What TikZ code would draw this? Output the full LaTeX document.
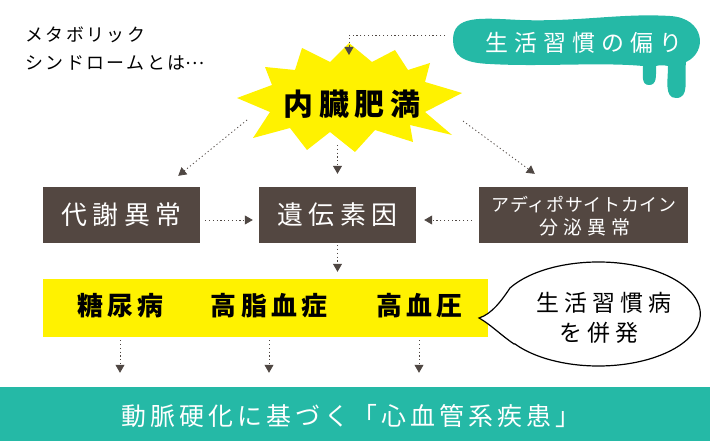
\documentclass[tikz,border=0pt]{standalone}
\usepackage{fontspec}
\setmainfont{Noto Sans CJK JP}
\usetikzlibrary{arrows.meta}
\definecolor{barkbrown}{HTML}{534741}
\definecolor{tealgreen}{HTML}{25B9A6}
\definecolor{arrowgray}{HTML}{4F4743}
\newcommand{\jpfont}[2]{\fontsize{#1}{#1}\selectfont\addfontfeatures{LetterSpace=#2}}

\tikzset{
  dotarrow/.style={draw=arrowgray, line width=0.8bp, dash pattern=on 1.2bp off 2.6bp,
    -{Triangle[width=9bp,length=8bp]}},
  brownbox/.style={fill=barkbrown, text=white, minimum height=56bp, inner sep=0pt},
  plaintext/.style={inner sep=0pt},
}

\begin{document}
\begin{tikzpicture}[x=1bp, y=-1bp]
		%%%%% START %%%%%
		\useasboundingbox (0,0) rectangle (710,441);
		
		% title
		\node[plaintext, anchor=base west, font=\jpfont{18}{14}] (title1) at (25,42) {メタボリック};
		\node[plaintext, anchor=base west, font=\jpfont{18}{14}] (title2) at (25,70) {シンドロームとは\raisebox{0.3em}{…}};
		
		% blob with drips
		\fill[tealgreen] (453,40) .. controls (453,15) and (480,18) .. (520,20)
			.. controls (580,22) and (620,13) .. (670,16)
			.. controls (705,18) and (708,52) .. (686,62)
			.. controls (684,80) and (690,98) .. (676,98)
			.. controls (664,98) and (668,80) .. (668,66)
			.. controls (664,65) and (659,65) .. (656,66)
			.. controls (656,76) and (657,85) .. (649,85)
			.. controls (641,85) and (643,75) .. (643,66)
			.. controls (600,62) and (540,67) .. (490,64)
			.. controls (462,63) and (453,55) .. (453,40) -- cycle;
		\node[plaintext, text=white, font=\jpfont{23}{26}] (habit) at (584,43) {生活習慣の偏り};
		
		% star
		\fill[yellow] (462,93) -- (425,112) -- (452,135) -- (410,125) -- (413,142) -- (375,130)
			-- (355,152) -- (330,132) -- (307,150) -- (290,128) -- (253,138) -- (270,112)
			-- (237,98) -- (272,85) -- (265,67) -- (295,70) -- (302,48) -- (330,62)
			-- (349,43) -- (372,62) -- (395,50) -- (408,70) -- (430,63) -- (425,82) -- cycle;
		\node[plaintext, font=\bfseries\jpfont{30}{20}] (naizo) at (352,104) {内臓肥満};
		
		\coordinate (habitL) at (445,35);
		\coordinate (naizoT) at (349,55);
		\coordinate (naizoL) at (247,120);
		\coordinate (naizoR) at (463,121);
		\coordinate (naizoB) at (337,145);
		
		% boxes
		\node[brownbox, minimum width=157bp, font=\jpfont{26}{20}] (taisha) at (121.5,215) {代謝異常};
		\node[brownbox, minimum width=157bp, font=\jpfont{26}{20}] (iden) at (337.5,215) {遺伝素因};
		\node[brownbox, minimum width=209bp] (adipo) at (583.5,215) {};
		\node[plaintext, text=white, font=\jpfont{18}{4}] (adipo1) at (584,204.5) {アディポサイトカイン};
		\node[plaintext, text=white, font=\jpfont{19}{26}] (adipo2) at (585,227) {分泌異常};
		
		% yellow band
		\node[fill=yellow, minimum width=445bp, minimum height=58bp, inner sep=0pt] (band) at (265.5,308) {};
		\node[plaintext, font=\bfseries\jpfont{26}{16}] (dm) at (120,306) {糖尿病};
		\node[plaintext, font=\bfseries\jpfont{26}{16}] (hl) at (269,306) {高脂血症};
		\node[plaintext, font=\bfseries\jpfont{26}{16}] (hbp) at (419,306) {高血圧};
		
		% speech bubble
		\draw[line width=1.2bp, fill=white] (514,344) .. controls (502,336) and (490,324) .. (479,318)
			.. controls (492,314) and (502,300) .. (510,288)
			arc[start angle=210, end angle=505, x radius=102, y radius=52] -- cycle;
		\node[plaintext, font=\jpfont{23}{22}] (bub1) at (604,302.5) {生活習慣病};
		\node[plaintext, font=\jpfont{23}{22}] (bub2) at (599,333) {を併発};
		
		% bottom band
		\node[fill=tealgreen, minimum width=710bp, minimum height=54bp, inner sep=0pt] (base) at (355,414) {};
		\node[plaintext, text=white, font=\jpfont{25}{16}] (cvd) at (351,416) {動脈硬化に基づく「心血管系疾患」};
		
		% arrows
		\draw[dotarrow] (habitL) -| (naizoT);
		\draw[dotarrow] (naizoL) -- ([xshift=-22bp,yshift=11bp]taisha.north east);
		\draw[dotarrow] (naizoR) -- ([xshift=56bp,yshift=13bp]adipo.north west);
		\draw[dotarrow] (iden.north |- naizoB) -- ([yshift=13bp]iden.north);
		\draw[dotarrow] ([xshift=5bp,yshift=-5bp]taisha.east) -- ([xshift=-6bp,yshift=-5bp]iden.west);
		\draw[dotarrow] ([xshift=-7bp,yshift=-5bp]adipo.west) -- ([xshift=8bp,yshift=-5bp]iden.east);
		\draw[dotarrow] ([yshift=-2bp]iden.south) -- ([yshift=7bp]band.north -| iden);
		
		\draw[dotarrow] ([yshift=-3bp]band.south -| dm) -- ([yshift=14bp]base.north -| dm);
		\draw[dotarrow] ([yshift=-3bp]band.south -| hl) -- ([yshift=14bp]base.north -| hl);
		\draw[dotarrow] ([yshift=-3bp]band.south -| hbp) -- ([yshift=14bp]base.north -| hbp);
		
		%%%%% END %%%%%
\end{tikzpicture}
\end{document}
